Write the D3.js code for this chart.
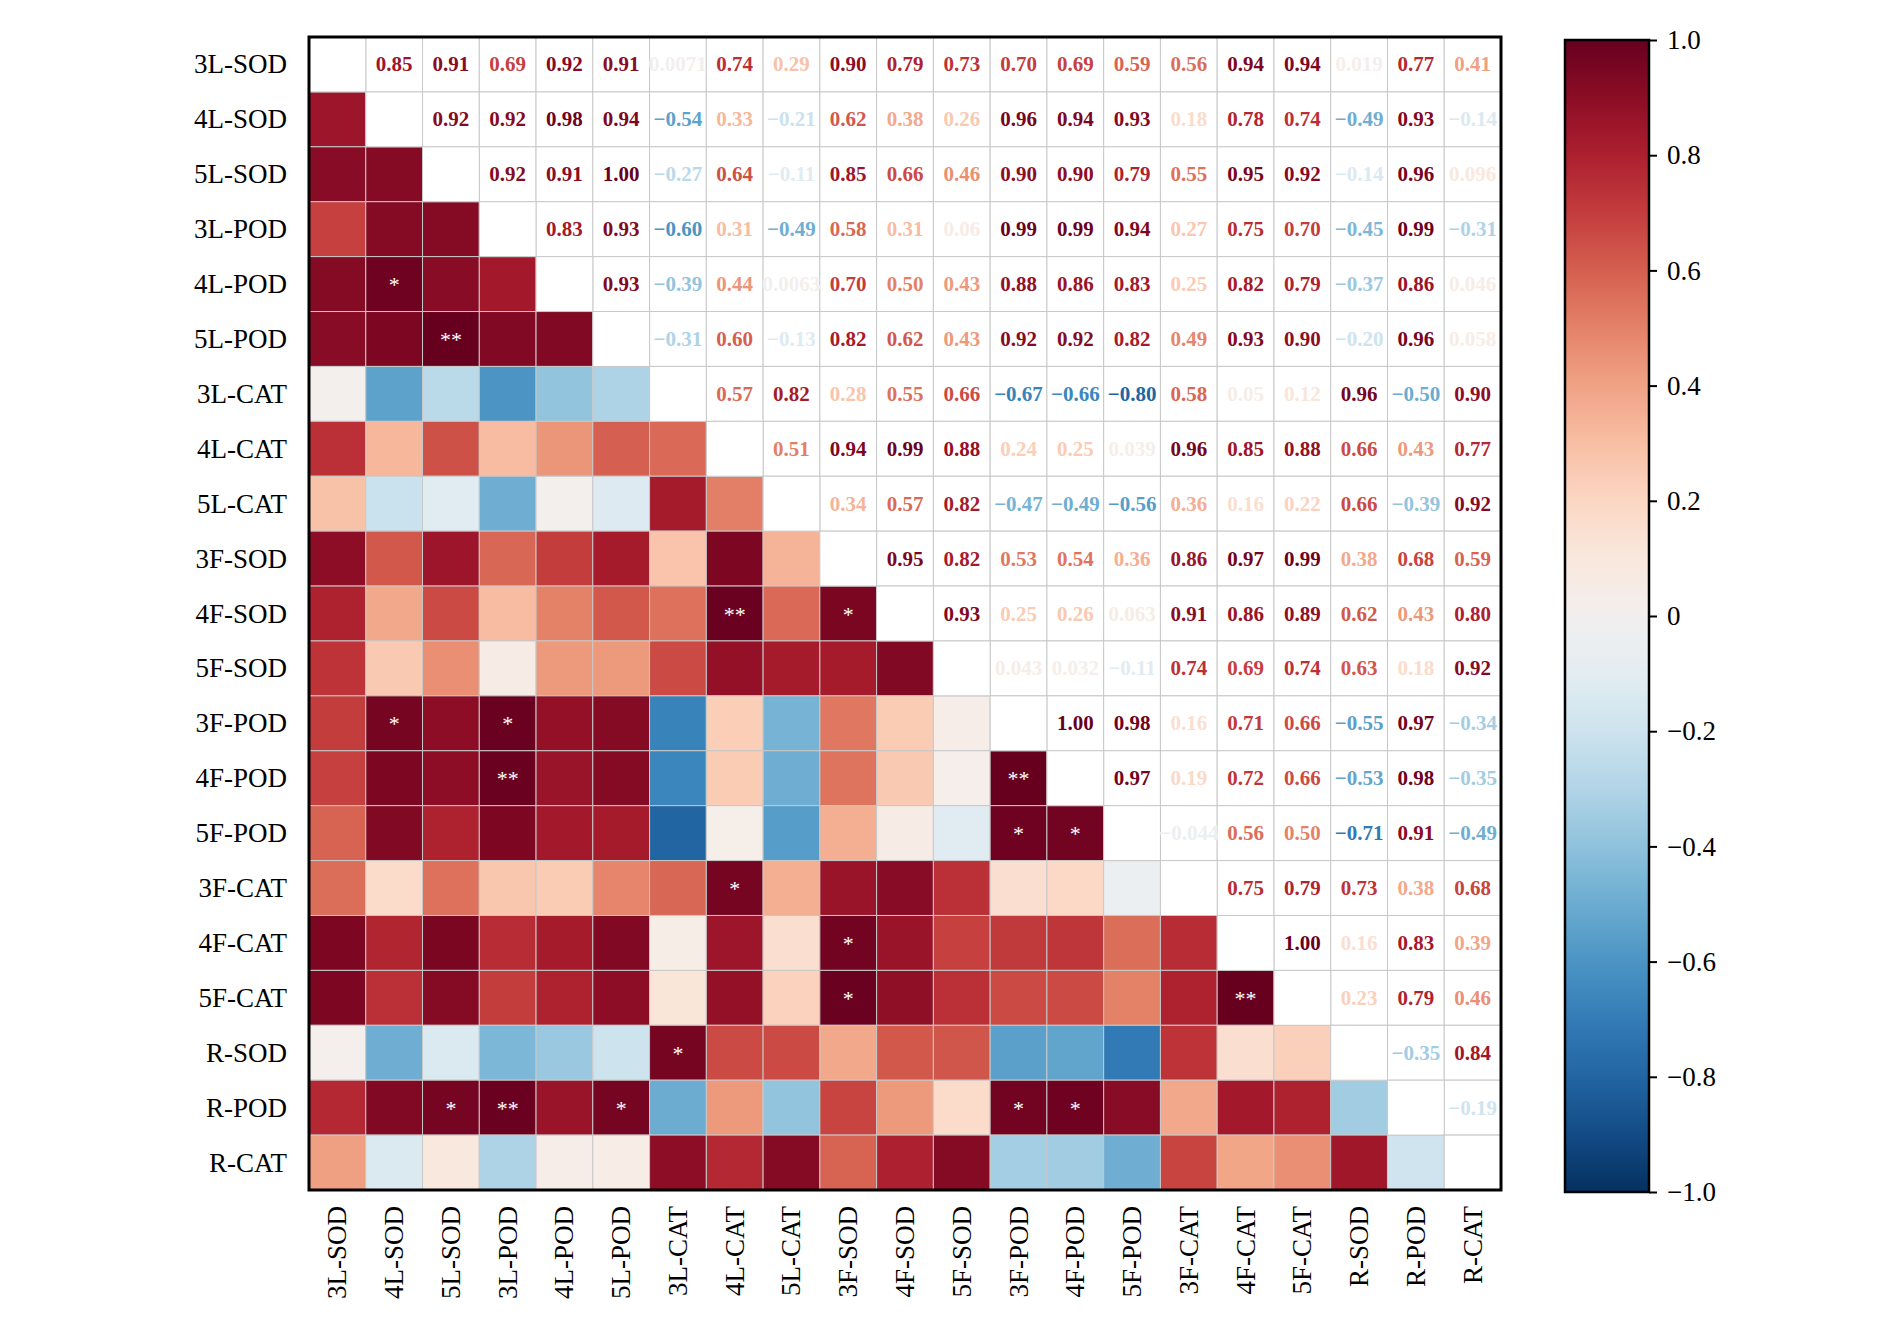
<!DOCTYPE html>
<html><head><meta charset="utf-8">
<script src="https://cdn.jsdelivr.net/npm/d3@7"></script>
<style>body{margin:0;background:#fff}</style>
</head><body><svg width="1890" height="1342"></svg>
<script>
const labels = ["3L-SOD","4L-SOD","5L-SOD","3L-POD","4L-POD","5L-POD","3L-CAT","4L-CAT","5L-CAT",
  "3F-SOD","4F-SOD","5F-SOD","3F-POD","4F-POD","5F-POD","3F-CAT","4F-CAT","5F-CAT","R-SOD","R-POD","R-CAT"];

// upper triangle, row i holds columns i+1..20
const upper = [
  [0.85,0.91,0.69,0.92,0.91,0.0071,0.74,0.29,0.90,0.79,0.73,0.70,0.69,0.59,0.56,0.94,0.94,0.019,0.77,0.41],
  [0.92,0.92,0.98,0.94,-0.54,0.33,-0.21,0.62,0.38,0.26,0.96,0.94,0.93,0.18,0.78,0.74,-0.49,0.93,-0.14],
  [0.92,0.91,1.00,-0.27,0.64,-0.11,0.85,0.66,0.46,0.90,0.90,0.79,0.55,0.95,0.92,-0.14,0.96,0.096],
  [0.83,0.93,-0.60,0.31,-0.49,0.58,0.31,0.060,0.99,0.99,0.94,0.27,0.75,0.70,-0.45,0.99,-0.31],
  [0.93,-0.39,0.44,0.0063,0.70,0.50,0.43,0.88,0.86,0.83,0.25,0.82,0.79,-0.37,0.86,0.046],
  [-0.31,0.60,-0.13,0.82,0.62,0.43,0.92,0.92,0.82,0.49,0.93,0.90,-0.20,0.96,0.058],
  [0.57,0.82,0.28,0.55,0.66,-0.67,-0.66,-0.80,0.58,0.050,0.12,0.96,-0.50,0.90],
  [0.51,0.94,0.99,0.88,0.24,0.25,0.039,0.96,0.85,0.88,0.66,0.43,0.77],
  [0.34,0.57,0.82,-0.47,-0.49,-0.56,0.36,0.16,0.22,0.66,-0.39,0.92],
  [0.95,0.82,0.53,0.54,0.36,0.86,0.97,0.99,0.38,0.68,0.59],
  [0.93,0.25,0.26,0.063,0.91,0.86,0.89,0.62,0.43,0.80],
  [0.043,0.032,-0.11,0.74,0.69,0.74,0.63,0.18,0.92],
  [1.00,0.98,0.16,0.71,0.66,-0.55,0.97,-0.34],
  [0.97,0.19,0.72,0.66,-0.53,0.98,-0.35],
  [-0.044,0.56,0.50,-0.71,0.91,-0.49],
  [0.75,0.79,0.73,0.38,0.68],
  [1.00,0.16,0.83,0.39],
  [0.23,0.79,0.46],
  [-0.35,0.84],
  [-0.19]
];

// significance marks in lower triangle: [row, col, mark]
const stars = [
  ["4L-POD","4L-SOD","*"],["5L-POD","5L-SOD","**"],["4F-SOD","4L-CAT","**"],["4F-SOD","3F-SOD","*"],
  ["3F-POD","4L-SOD","*"],["3F-POD","3L-POD","*"],["4F-POD","3L-POD","**"],["4F-POD","3F-POD","**"],
  ["5F-POD","3F-POD","*"],["5F-POD","4F-POD","*"],["3F-CAT","4L-CAT","*"],["4F-CAT","3F-SOD","*"],
  ["5F-CAT","3F-SOD","*"],["5F-CAT","4F-CAT","**"],["R-SOD","3L-CAT","*"],["R-POD","5L-SOD","*"],
  ["R-POD","3L-POD","**"],["R-POD","5L-POD","*"],["R-POD","3F-POD","*"],["R-POD","4F-POD","*"]
];

const colorTicks = [-1.0,-0.8,-0.6,-0.4,-0.2,0,0.2,0.4,0.6,0.8,1.0];

const svg = d3.select("svg");
const L = 309, R = 1501, T = 37, B = 1190;
const x = d3.scaleBand().domain(labels).range([L, R]);
const y = d3.scaleBand().domain(labels).range([T, B]);
const color = v => d3.interpolateRdBu(1 - (v + 1) / 2);
const font = "'Liberation Serif','Times New Roman',serif";

const cells = [];
upper.forEach((row, i) => row.forEach((v, k) => {
  const j = i + 1 + k;
  cells.push({r: i, c: j, v, upper: true});
  cells.push({r: j, c: i, v, upper: false});
}));
labels.forEach((l, i) => cells.push({r: i, c: i, v: null, diag: true}));

svg.append("g").selectAll("rect").data(cells).join("rect")
  .attr("x", d => x(labels[d.c])).attr("y", d => y(labels[d.r]))
  .attr("width", x.bandwidth()).attr("height", y.bandwidth())
  .attr("fill", d => (d.diag || d.upper) ? "#fff" : color(d.v))
  .attr("stroke", "#c8c8c8").attr("stroke-width", 1);

const fmt = v => Math.abs(v) < 0.1 ? d3.format(".2")(v) : d3.format(".2f")(v);
svg.append("g").selectAll("text").data(cells.filter(d => d.upper)).join("text")
  .attr("x", d => x(labels[d.c]) + x.bandwidth() / 2)
  .attr("y", d => y(labels[d.r]) + y.bandwidth() / 2)
  .attr("text-anchor", "middle").attr("dominant-baseline", "central")
  .attr("font-family", font).attr("font-size", 21).attr("font-weight", "bold")
  .attr("fill", d => color(d.v))
  .attr("stroke", "#fff").attr("stroke-width", 0.6).attr("paint-order", "stroke")
  .text(d => fmt(d.v));

svg.append("g").selectAll("text").data(stars).join("text")
  .attr("x", d => x(d[1]) + x.bandwidth() / 2)
  .attr("y", d => y(d[0]) + y.bandwidth() / 2 + 8)
  .attr("text-anchor", "middle")
  .attr("font-family", font).attr("font-size", 22).attr("fill", "#fff")
  .text(d => d[2]);

svg.append("rect").attr("x", L).attr("y", T).attr("width", R - L).attr("height", B - T)
  .attr("fill", "none").attr("stroke", "#000").attr("stroke-width", 3);

svg.append("g").selectAll("text").data(labels).join("text")
  .attr("x", 287).attr("y", d => y(d) + y.bandwidth() / 2)
  .attr("text-anchor", "end").attr("dominant-baseline", "central")
  .attr("font-family", font).attr("font-size", 27).text(d => d);

svg.append("g").selectAll("text").data(labels).join("text")
  .attr("transform", d => `translate(${x(d) + x.bandwidth() / 2},1206) rotate(-90)`)
  .attr("text-anchor", "end").attr("dominant-baseline", "central")
  .attr("font-family", font).attr("font-size", 27).text(d => d);

// colorbar
const cbL = 1565, cbW = 84, cbT = 40, cbB = 1192;
const cy = d3.scaleLinear().domain([-1, 1]).range([cbB, cbT]);
const grad = svg.append("defs").append("linearGradient").attr("id", "cb")
  .attr("x1", 0).attr("y1", 1).attr("x2", 0).attr("y2", 0);
d3.range(0, 1.0001, 0.05).forEach(t => grad.append("stop")
  .attr("offset", t).attr("stop-color", color(t * 2 - 1)));
svg.append("rect").attr("x", cbL).attr("y", cbT).attr("width", cbW).attr("height", cbB - cbT)
  .attr("fill", "url(#cb)").attr("stroke", "#000").attr("stroke-width", 2.5);
const ax = svg.append("g").attr("transform", `translate(${cbL + cbW},0)`)
  .call(d3.axisRight(cy).tickValues(colorTicks).tickSize(8).tickPadding(10)
    .tickFormat(v => v === 0 ? "0" : d3.format(".1f")(v)));
ax.select(".domain").remove();
ax.selectAll("line").attr("stroke-width", 2);
ax.selectAll("text").attr("font-family", font).attr("font-size", 27).attr("fill", "#000");
</script></body></html>
